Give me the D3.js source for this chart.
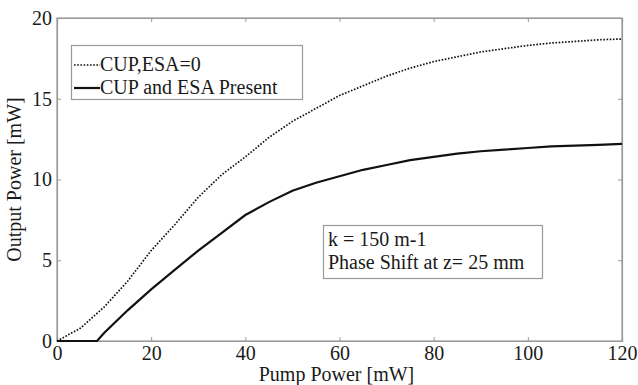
<!DOCTYPE html>
<html><head><meta charset="utf-8">
<script src="https://cdn.jsdelivr.net/npm/d3@7"></script>
<style>body{margin:0;background:#fff}svg{display:block}svg text{font-family:"Liberation Serif","Times New Roman",Times,"DejaVu Serif",serif !important;fill:#1a1a1a}</style>
</head><body>
<script>
const pump = [0,5,10,15,20,25,30,35,40,45,50,55,60,65,70,75,80,85,90,95,100,105,110,115,120];
const noCupEsa = [0,0.8,2.1,3.7,5.6,7.2,8.9,10.3,11.4,12.6,13.6,14.4,15.2,15.8,16.4,16.9,17.3,17.6,17.9,18.1,18.3,18.45,18.55,18.65,18.7];
const solidX = [0,8.5,10,15,20,25,30,35,40,45,50,55,60,65,70,75,80,85,90,95,100,105,110,115,120];
const withCupEsa = [0,0,0.5,1.9,3.2,4.4,5.6,6.7,7.8,8.6,9.3,9.8,10.2,10.6,10.9,11.2,11.4,11.6,11.75,11.85,11.95,12.05,12.1,12.15,12.2];
const xTicks = [0,20,40,60,80,100,120];
const yTicks = [0,5,10,15,20];
const legendLabels = ["CUP,ESA=0","CUP and ESA Present"];
const noteLines = ["k = 150 m-1","Phase Shift at z= 25 mm"];

const W=638,H=385, L=57, R=622, T=18, B=341;
const svg=d3.select("body").append("svg").attr("width",W).attr("height",H);
const x=d3.scaleLinear().domain([0,120]).range([L,R]);
const y=d3.scaleLinear().domain([0,20]).range([B,T]);
const axCol="#9a9a9a";
const FF='"Liberation Serif","Times New Roman",Times,"DejaVu Serif",serif';

svg.append("rect").attr("x",L).attr("y",T).attr("width",R-L).attr("height",B-T).attr("fill","none").attr("stroke",axCol).attr("stroke-width",1.2);

const fs=20;
const gx=svg.append("g").attr("transform",`translate(0,${B})`).call(d3.axisBottom(x).tickValues(xTicks).tickSize(-4).tickPadding(9));
const gy=svg.append("g").attr("transform",`translate(${L},0)`).call(d3.axisLeft(y).tickValues(yTicks).tickSize(-4).tickPadding(5));
const gt=svg.append("g").attr("transform",`translate(0,${T})`).call(d3.axisTop(x).tickValues(xTicks).tickSize(-4).tickFormat(""));
const gr=svg.append("g").attr("transform",`translate(${R},0)`).call(d3.axisRight(y).tickValues(yTicks).tickSize(-4).tickFormat(""));
[gx,gy,gt,gr].forEach(g=>{g.attr("font-family",FF).attr("font-size",fs);g.select(".domain").attr("stroke",axCol).attr("stroke-width",1.2);g.selectAll(".tick line").attr("stroke",axCol);g.selectAll("text").style("font-family",FF).attr("font-size",fs).attr("fill","#1a1a1a");});
gx.selectAll("text").attr("dy","0.5em");

const ln=d3.line().x(d=>x(d[0])).y(d=>y(d[1]));
svg.append("path").datum(pump.map((p,i)=>[p,noCupEsa[i]])).attr("d",ln).attr("fill","none").attr("stroke","#111").attr("stroke-width",1.7).attr("stroke-dasharray","1.6,1.6");
svg.append("path").datum(solidX.map((p,i)=>[p,withCupEsa[i]])).attr("d",ln).attr("fill","none").attr("stroke","#111").attr("stroke-width",2.2);

svg.append("text").attr("x",(L+R)/2-3).attr("y",381).attr("text-anchor","middle").attr("font-size",fs).style("font-family",FF).text("Pump Power [mW]");
svg.append("text").attr("transform",`translate(21,${(T+B)/2}) rotate(-90)`).attr("text-anchor","middle").attr("font-size",fs).style("font-family",FF).text("Output Power [mW]");

const lg=svg.append("g");
lg.append("rect").attr("x",71.5).attr("y",45.5).attr("width",231).attr("height",54).attr("fill","#fff").attr("stroke",axCol).attr("stroke-width",1.2);
const legY=[65,88];
lg.append("line").attr("x1",74).attr("x2",100).attr("y1",legY[0]).attr("y2",legY[0]).attr("stroke","#111").attr("stroke-width",1.7).attr("stroke-dasharray","1.6,1.6");
lg.append("line").attr("x1",74).attr("x2",100).attr("y1",legY[1]).attr("y2",legY[1]).attr("stroke","#111").attr("stroke-width",2.2);
legendLabels.forEach((t,i)=>lg.append("text").attr("x",100).attr("y",legY[i]+6).attr("font-size",fs).style("font-family",FF).text(t));

const nb=svg.append("g");
nb.append("rect").attr("x",323.5).attr("y",225.5).attr("width",219).attr("height",53).attr("fill","#fff").attr("stroke",axCol).attr("stroke-width",1.2);
noteLines.forEach((t,i)=>nb.append("text").attr("x",328).attr("y",[246,269][i]).attr("font-size",fs).style("font-family",FF).text(t));
</script>
</body></html>
